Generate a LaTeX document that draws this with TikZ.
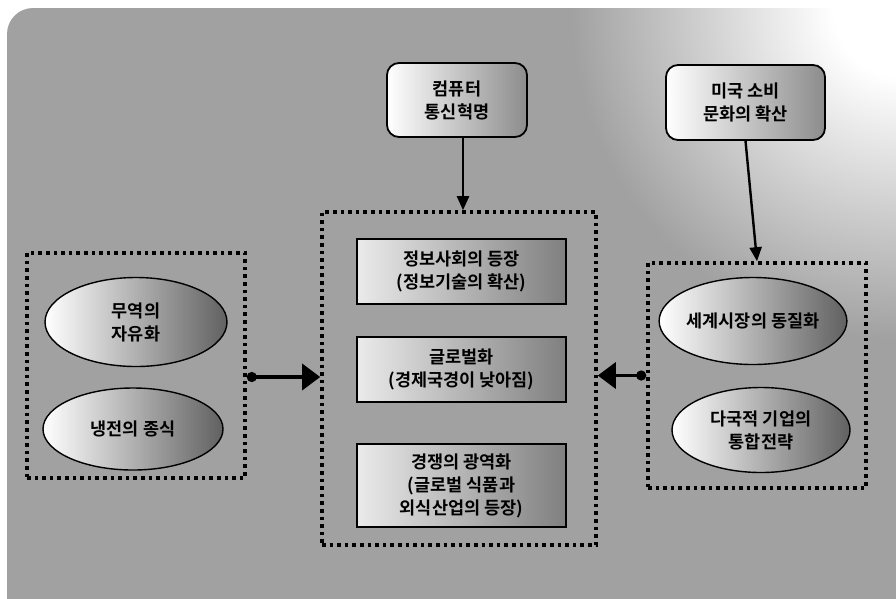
\documentclass[tikz,border=0pt]{standalone}
\usepackage{fontspec}
\setmainfont{Noto Sans CJK KR}[BoldFont={* Bold}]
\usetikzlibrary{arrows.meta,shapes.geometric}
\definecolor{bg}{gray}{0.63}
\pgfdeclareradialshading{bgfade}{\pgfpoint{0bp}{0bp}}{color(0bp)=(white); color(5bp)=(white); color(25bp)=(bg); color(50bp)=(bg)}
\tikzset{
  txt/.style={font=\fontsize{17.5}{23}\selectfont\bfseries, align=center, text=black},
  topbox/.style={txt, draw, line width=1.8pt, rounded corners=12pt, inner sep=0pt,
    left color=white, right color=black!45},
  infobox/.style={txt, draw, line width=1.6pt, inner sep=0pt, minimum width=209pt,
    left color=black!8, right color=black!50},
  oval/.style={txt, ellipse, draw, line width=1.4pt, inner sep=0pt,
    left color=white, right color=black!62},
  dotbox/.style={draw, line width=3.6pt, dash pattern=on 3.6pt off 4pt, inner sep=0pt},
  varrow/.style={line width=2.4pt, -{Triangle[length=14pt,width=12pt]}},
  harrow/.style={line width=3.4pt, {Circle[length=10pt,width=10pt]}-{Triangle[length=18pt,width=26pt]}},
}
\begin{document}
\begin{tikzpicture}[x=1pt,y=-1pt]
\useasboundingbox (0,0) rectangle (896,598);
\begin{scope}
  \clip (0,0) rectangle (896,598);
  \fill[bg, rounded corners=26pt] (7,8) rectangle (930,640);
  \clip[rounded corners=26pt] (7,8) rectangle (930,640);
  \shade[shading=bgfade] (900,10) circle (330);
\end{scope}

% dotted groups
\node[dotbox, minimum width=274pt, minimum height=333pt] (M) at (459,378.5) {};
\node[dotbox, minimum width=218pt, minimum height=225pt] (L) at (136,365.5) {};
\node[dotbox, minimum width=218pt, minimum height=225pt] (R) at (757,375.5) {};

% top boxes
\node[topbox, minimum width=140pt, minimum height=74pt] (C) at (457,100) {컴퓨터\\통신혁명};
\node[topbox, minimum width=159pt, minimum height=75pt] (U) at (745.5,102.5) {미국 소비\\문화의 확산};

% center boxes
\node[infobox, minimum height=65pt] (B1) at (461.5,271.5) {정보사회의 등장\\(정보기술의 확산)};
\node[infobox, minimum height=65pt] (B2) at (461.5,369.5) {글로벌화\\(경제국경이 낮아짐)};
\node[infobox, minimum height=83pt] (B3) at (461.5,485.5) {경쟁의 광역화\\(글로벌 식품과\\외식산업의 등장)};

% ellipses
\node[oval, minimum width=182pt, minimum height=89pt] (E1) at (136,322) {무역의\\자유화};
\node[oval, minimum width=180pt, minimum height=82pt] (E2) at (133,429) {냉전의 종식};
\node[oval, minimum width=180pt, minimum height=87pt] (E3) at (753,321) {세계시장의 동질화};
\node[oval, minimum width=178pt, minimum height=85pt] (E4) at (761,430) {다국적 기업의\\통합전략};

% connectors
\coordinate (cs) at ([xshift=6pt]C.south);
\draw[varrow] (cs) -- (cs |- M.north);
\draw[varrow] (U.south) -- (R.north);
\coordinate (la) at ([yshift=-11.5pt]L.east);
\draw[harrow] (la) -- (la -| M.west);
\draw[harrow] (R.west) -- (R.west -| M.east);
\end{tikzpicture}
\end{document}
